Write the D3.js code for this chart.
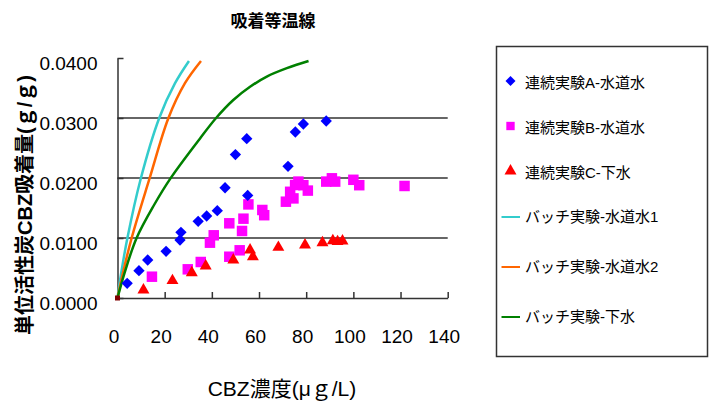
<!DOCTYPE html>
<html>
<head>
<meta charset="utf-8">
<script src="https://cdn.jsdelivr.net/npm/d3@7"></script>
<style>
  body { margin: 0; background: #fff; }
  text { font-family: "Liberation Sans", Arial, "Noto Sans CJK JP", sans-serif; fill: #000; }
  .axis path, .axis line { stroke: #333; stroke-width: 1.5; }
  .axis text { font-size: 19px; }
  .grid { stroke: #333; stroke-width: 1.5; }
</style>
</head>
<body>
<div id="plot"></div>
<script>
const w = 714, h = 412

// ticks
const xTicks = [0, 20, 40, 60, 80, 100, 120, 140],
    yTicks = [0, 0.01, 0.02, 0.03, 0.04],
    gridTicks = [0.01, 0.02, 0.03]

// 連続実験
const seriesA = [[4.1, 0.00245], [9.1, 0.00455], [12.8, 0.00633], [20.6, 0.00778], [26.5, 0.00967],
  [26.9, 0.01095], [34.2, 0.01278], [37.8, 0.01367], [42.3, 0.01455], [45.6, 0.01838],
  [50.0, 0.0239], [54.8, 0.02655], [55.2, 0.0171], [72.3, 0.02195], [75.4, 0.02767],
  [78.8, 0.0290], [88.5, 0.0295]]
const seriesB = [[14.6, 0.00355], [29.8, 0.00478], [35.3, 0.0060], [39.2, 0.00922], [40.8, 0.01045],
  [47.4, 0.00688], [51.8, 0.00795], [47.4, 0.01245], [52.8, 0.01117], [53.4, 0.01322],
  [55.5, 0.0156], [61.4, 0.01467], [62.2, 0.0138], [71.4, 0.01605], [74.6, 0.0166],
  [73.2, 0.0177], [75.3, 0.01883], [76.7, 0.0194], [78.8, 0.0188], [80.7, 0.0179],
  [88.5, 0.0194], [90.9, 0.01995], [92.3, 0.0194], [100.0, 0.0197], [102.5, 0.0188],
  [121.7, 0.01867]]
const seriesC = [[11.0, 0.00133], [23.3, 0.00289], [31.5, 0.00422], [37.4, 0.00533], [49.1, 0.00633],
  [56.2, 0.0080], [57.4, 0.00688], [68.2, 0.00845], [79.5, 0.00883], [86.9, 0.00922],
  [91.3, 0.00955], [93.3, 0.0094], [95.4, 0.0095]]
const origin = [[0, 0]]

// バッチ実験 curves
const batch1 = [[0, 0], [1.5, 0.0040], [4.2, 0.0100], [9.8, 0.0198], [17.7, 0.0300], [24.4, 0.0358], [30.3, 0.0395]]
const batch2 = [[0, 0], [2.2, 0.0040], [6.0, 0.0100], [13.5, 0.0198], [21.6, 0.0300], [28.6, 0.0358], [35.4, 0.0395]]
const batch3 = [[0, 0], [3.0, 0.0042], [8.1, 0.0100], [15.5, 0.0155], [22.4, 0.0199], [35.0, 0.0266], [41.8, 0.0300],
  [49.1, 0.0330], [56.2, 0.0352], [63.3, 0.0369], [71.8, 0.0383], [81.0, 0.0395]]

const legendLabels = ["連続実験A-水道水", "連続実験B-水道水", "連続実験C-下水",
  "バッチ実験-水道水1", "バッチ実験-水道水2", "バッチ実験-下水"]

const x = d3.scaleLinear().domain([0, 140]).range([117.5, 447.7]),
    y = d3.scaleLinear().domain([0, 0.04]).range([298, 58])

const svg = d3.select("#plot").append("svg")
  .attr("width", w)
  .attr("height", h)

svg.append("rect").attr("width", w).attr("height", h).attr("fill", "#fff")

// title
svg.append("text")
  .attr("x", 273).attr("y", 27)
  .attr("text-anchor", "middle")
  .style("font-size", "17px").style("font-weight", "bold")
  .text("吸着等温線")

// gridlines
svg.selectAll(".grid").data(gridTicks).join("line")
  .attr("class", "grid")
  .attr("x1", x(0)).attr("x2", x(140))
  .attr("y1", d => y(d)).attr("y2", d => y(d))

// axes
svg.append("g")
  .attr("class", "axis")
  .attr("transform", `translate(${x(0)},0)`)
  .call(d3.axisLeft(y).tickValues(yTicks).tickSize(-6).tickSizeOuter(0).tickPadding(20)
    .tickFormat(d3.format(".4f")))
  .selectAll("text").attr("dy", "0.58em")

svg.append("g")
  .attr("class", "axis")
  .attr("transform", `translate(0,${y(0)})`)
  .call(d3.axisBottom(x).tickValues(xTicks).tickSize(-6).tickSizeOuter(0).tickPadding(32))
  .selectAll("text").attr("dx", "-4")

// axis titles
svg.append("text")
  .attr("transform", "translate(32,205) rotate(-90)")
  .attr("text-anchor", "middle")
  .style("font-size", "20px").style("font-weight", "bold")
  .text("単位活性炭CBZ吸着量(ｇ/ｇ)")

svg.append("text")
  .attr("x", 282).attr("y", 396)
  .attr("text-anchor", "middle")
  .style("font-size", "21px")
  .text("CBZ濃度(μｇ/L)")

// curves
const line = d3.line().x(d => x(d[0])).y(d => y(d[1])).curve(d3.curveCatmullRom.alpha(0.5))
const curves = [[batch1, "#33CCCC"], [batch2, "#FF6600"], [batch3, "#008000"]]
curves.forEach(([data, color]) => {
  svg.append("path")
    .datum(data)
    .attr("fill", "none")
    .attr("stroke", color)
    .attr("stroke-width", 2.5)
    .attr("d", line)
})

// markers
const diamond = d3.symbol().type(d3.symbolSquare).size(64),
    square = d3.symbol().type(d3.symbolSquare).size(110),
    triangle = d3.symbol().type(d3.symbolTriangle).size(62),
    dot = d3.symbol().type(d3.symbolSquare).size(25)

const marks = [[seriesB, square, "#FF00FF", 0], [seriesC, triangle, "#FF0000", 0],
  [seriesA, diamond, "#0000FF", 45], [origin, dot, "#800000", 0]]
marks.forEach(([data, sym, color, rot]) => {
  svg.append("g").selectAll("path").data(data).join("path")
    .attr("d", sym)
    .attr("fill", color)
    .attr("transform", d => `translate(${x(d[0])},${y(d[1])}) rotate(${rot})`)
})

// legend
const legend = svg.append("g")
legend.append("rect")
  .attr("x", 496.5).attr("y", 46.5)
  .attr("width", 211).attr("height", 310)
  .attr("fill", "#fff").attr("stroke", "#333").attr("stroke-width", 1.5)

const rowY = [83, 128, 173, 217, 267, 317]
const legendMarks = [[diamond, "#0000FF", 45, 50], [square, "#FF00FF", 0, 70], [triangle, "#FF0000", 0, 62]]
legendMarks.forEach(([sym, color, rot, size], i) => {
  legend.append("path")
    .attr("d", sym.size(size)())
    .attr("fill", color)
    .attr("transform", `translate(510.5,${rowY[i] - 2}) rotate(${rot})`)
})
curves.forEach(([, color], i) => {
  legend.append("line")
    .attr("x1", 501.5).attr("x2", 520)
    .attr("y1", rowY[i + 3]).attr("y2", rowY[i + 3])
    .attr("stroke", color).attr("stroke-width", 2)
})
legend.selectAll(".lab").data(legendLabels).join("text")
  .attr("class", "lab")
  .attr("x", 525)
  .attr("y", (d, i) => rowY[i])
  .attr("dy", "0.35em")
  .style("font-size", "15px")
  .text(d => d)
</script>
</body>
</html>
